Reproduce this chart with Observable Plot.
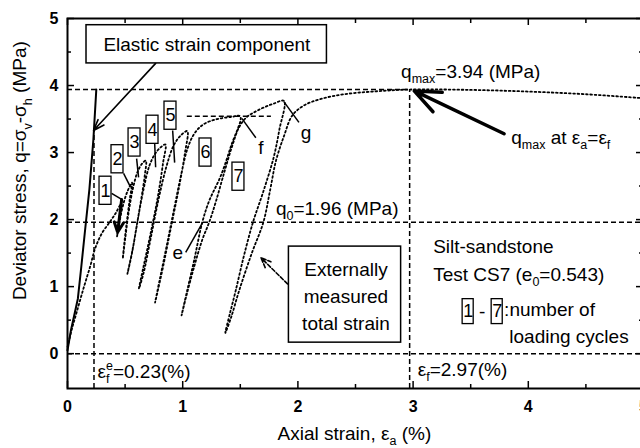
<!DOCTYPE html>
<html><head><meta charset="utf-8">
<script src="https://cdn.jsdelivr.net/npm/d3@7"></script>
<script src="https://cdn.jsdelivr.net/npm/@observablehq/plot@0.6"></script>
<style>html,body{margin:0;padding:0;background:#fff;overflow:hidden;} svg{display:block;overflow:hidden;}</style>
</head><body><div id="chart"></div>
<script>
// ---------- data ----------
const elasticStrain = [0, 0.03, 0.09, 0.12, 0.15, 0.19, 0.225, 0.25];
const elasticStress = [0.05, 0.35, 0.82, 1.3, 1.8, 2.45, 3.2, 3.94];

const initialLoading = [[0,0.1],[0.04,0.38],[0.08,0.62],[0.14,0.98],[0.2,1.32],[0.24,1.57],[0.3,1.8],[0.37,1.97],[0.42,2.1],[0.46,2.22]];
const cycle1 = [[0.45,2.02],[0.44,1.86],[0.43,1.75],[0.45,1.95],[0.48,2.2],[0.52,2.42],[0.56,2.55]];
const cycle2 = [[0.54,2.3],[0.51,1.9],[0.49,1.6],[0.48,1.42],[0.5,1.7],[0.53,2.1],[0.57,2.48],[0.61,2.72],[0.65,2.84],[0.68,2.88]];
const cycle3 = [[0.67,2.65],[0.62,2.1],[0.57,1.6],[0.52,1.19],[0.56,1.5],[0.61,2.0],[0.66,2.45],[0.71,2.8],[0.76,2.98],[0.81,3.08],[0.85,3.12]];
const cycle4 = [[0.83,2.85],[0.78,2.3],[0.71,1.7],[0.66,1.3],[0.62,0.97],[0.66,1.2],[0.72,1.7],[0.79,2.3],[0.86,2.8],[0.92,3.1],[0.98,3.25],[1.04,3.32]];
const cycle5 = [[1.02,3.0],[0.97,2.5],[0.9,1.9],[0.83,1.3],[0.76,0.76],[0.8,1.1],[0.86,1.6],[0.93,2.2],[0.99,2.7],[1.04,3.05],[1.1,3.28],[1.18,3.42],[1.3,3.5],[1.42,3.53],[1.5,3.54]];
const cycle6 = [[1.42,3.1],[1.33,2.65],[1.23,2.28],[1.17,1.96],[1.1,1.4],[1.04,0.95],[0.99,0.57],[1.03,0.85],[1.1,1.3],[1.17,1.7],[1.23,1.96],[1.29,2.28],[1.36,2.7],[1.43,3.1],[1.49,3.38],[1.55,3.52],[1.62,3.6],[1.7,3.67],[1.79,3.73],[1.88,3.77]];
const cycle7 = [[1.84,3.35],[1.79,2.93],[1.7,2.42],[1.61,1.96],[1.53,1.45],[1.46,0.94],[1.41,0.6],[1.37,0.31],[1.42,0.54],[1.49,0.94],[1.6,1.5],[1.7,1.96],[1.76,2.45],[1.81,2.88],[1.88,3.25],[1.95,3.55],[2.05,3.7],[2.2,3.8],[2.4,3.87],[2.65,3.91],[2.97,3.94],[3.5,3.935],[4.0,3.91],[4.5,3.87],[5.0,3.81]];

const qMax = 3.94, epsF = 2.97, q0 = 1.96, epsFe = 0.23;
const epsFeTop = 3.35;             // where the ε_f^e line meets the elastic line
const fLevel = 3.54, fFrom = 1.04, fTo = 1.77;
const xTicks = [0, 1, 2, 3, 4, 5];
const yTicks = [0, 1, 2, 3, 4, 5];
const xMinor = [0.5, 1.5, 2.5, 3.5, 4.5];
const yMinor = [0.5, 1.5, 2.5, 3.5, 4.5];
const cycleLabels = ["1", "2", "3", "4", "5", "6", "7"];

// ---------- build ----------
const elastic = elasticStrain.map((e, i) => ({e, q: elasticStress[i]}));
const total = [initialLoading, cycle1, cycle2, cycle3, cycle4, cycle5, cycle6, cycle7].flat().map(([e, q]) => ({e, q}));

const W = 640, H = 448, mL = 67, mT = 18, mB = 60, mR = -3;
const frameW = W - mL - mR, frameH = H - mT - mB;
const yMin = -0.52;
const FONT = "Liberation Sans, Arial, Helvetica, sans-serif";
const dash = "5,3";

// annotation layout (data units)
const cyclePos = [[0.33,2.43],[0.434,2.90],[0.582,3.15],[0.738,3.34],[0.894,3.55],[1.198,3.0],[1.484,2.64]];
const cycleBoxes = cycleLabels.map((t, i) => ({t, x: cyclePos[i][0], y: cyclePos[i][1]}));
const legendBoxes = [{t: cycleLabels[0], x: 3.478, y: 0.627}, {t: cycleLabels[6], x: 3.73, y: 0.627}];
const pointers = [
  {x1: 0.487, y1: 2.69, x2: 0.548, y2: 2.48},
  {x1: 0.60, y1: 2.91, x2: 0.617, y2: 2.63},
  {x1: 0.757, y1: 3.13, x2: 0.765, y2: 2.78},
  {x1: 0.913, y1: 3.33, x2: 0.93, y2: 2.85},
  {x1: 1.513, y1: 3.51, x2: 1.635, y2: 3.22},
  {x1: 1.878, y1: 3.76, x2: 2.009, y2: 3.45},
  {x1: 1.026, y1: 1.51, x2: 1.174, y2: 1.96},
  {x1: 0.383, y1: 2.39, x2: 0.47, y2: 2.30}
];

const chart = Plot.plot({
  width: W, height: H,
  marginLeft: mL, marginTop: mT, marginBottom: mB, marginRight: mR,
  x: {domain: [0, 5], axis: null},
  y: {domain: [yMin, 5], axis: null},
  style: {fontFamily: FONT, fontSize: "19px", color: "black", background: "white", overflow: "hidden"},
  marks: [
    // reference lines
    Plot.ruleY([q0], {x1: 0, x2: 5, stroke: "black", strokeWidth: 1.5, strokeDasharray: dash}),
    Plot.ruleY([0], {x1: 0, x2: 5, stroke: "black", strokeWidth: 1.5, strokeDasharray: dash}),
    Plot.ruleY([qMax], {x1: 0, x2: epsF, stroke: "black", strokeWidth: 1.5, strokeDasharray: dash}),
    Plot.ruleX([epsF], {y1: yMin, y2: qMax, stroke: "black", strokeWidth: 1.5, strokeDasharray: dash}),
    Plot.ruleX([epsFe], {y1: yMin, y2: epsFeTop, stroke: "black", strokeWidth: 1.5, strokeDasharray: dash}),
    Plot.ruleY([fLevel], {x1: fFrom, x2: fTo, stroke: "black", strokeWidth: 1.5, strokeDasharray: dash}),
    // curves
    Plot.line(elastic, {x: "e", y: "q", stroke: "black", strokeWidth: 2}),
    Plot.line(total, {x: "e", y: "q", stroke: "black", strokeWidth: 1.8, strokeDasharray: "1.7,2.6", curve: "catmull-rom"}),
    // frame & ticks
    Plot.frame({stroke: "black", strokeWidth: 2}),
    Plot.ruleX(xTicks, {x: d => d, stroke: "black", strokeWidth: 1.5, insetTop: frameH - 7}),
    Plot.ruleX(xMinor, {x: d => d, stroke: "black", strokeWidth: 1.5, insetTop: frameH - 4}),
    Plot.ruleX(xTicks, {x: d => d, stroke: "black", strokeWidth: 1.5, insetBottom: frameH - 7}),
    Plot.ruleX(xMinor, {x: d => d, stroke: "black", strokeWidth: 1.5, insetBottom: frameH - 5}),
    Plot.ruleY(yTicks, {y: d => d, stroke: "black", strokeWidth: 1.5, insetRight: frameW - 7}),
    Plot.ruleY(yMinor, {y: d => d, stroke: "black", strokeWidth: 1.5, insetRight: frameW - 4}),
    Plot.ruleY(yTicks, {y: d => d, stroke: "black", strokeWidth: 1.5, insetLeft: frameW - 7}),
    Plot.ruleY(yMinor, {y: d => d, stroke: "black", strokeWidth: 1.5, insetLeft: frameW - 4}),
    // tick labels
    Plot.text(xTicks, {x: d => d, y: yMin, dy: 18, text: d => String(d), fontWeight: "bold", fontSize: 16}),
    Plot.text(yTicks, {x: 0, y: d => d, dx: -9, textAnchor: "end", text: d => String(d), fontWeight: "bold", fontSize: 16}),
    // axis titles
    Plot.text(["Axial strain, ε_{a} (%)"], {x: 2.49, y: -1.2, text: d => d, fontSize: 19}),
    Plot.text(["Deviator stress, q=σ_{v}-σ_{h} (MPa)"], {x: -0.41, y: 2.73, rotate: -90, text: d => d, fontSize: 19}),
    // arrows
    Plot.arrow([{x1: 0.765, y1: 4.33, x2: 0.226, y2: 3.33}], {x1: "x1", y1: "y1", x2: "x2", y2: "y2", stroke: "black", strokeWidth: 1.6, headLength: 11, headAngle: 40}),
    Plot.arrow([{x1: 3.79, y1: 3.28, x2: 3.01, y2: 3.92}], {x1: "x1", y1: "y1", x2: "x2", y2: "y2", stroke: "black", strokeWidth: 3.5, headLength: 12, headAngle: 45}),
    Plot.arrow([{x1: 1.91, y1: 1.04, x2: 1.68, y2: 1.43}], {x1: "x1", y1: "y1", x2: "x2", y2: "y2", stroke: "black", strokeWidth: 1.6, strokeDasharray: "4,2", headLength: 10, headAngle: 45}),
    Plot.arrow([{x1: 0.47, y1: 2.30, x2: 0.435, y2: 1.81}], {x1: "x1", y1: "y1", x2: "x2", y2: "y2", stroke: "black", strokeWidth: 3, headLength: 8, headAngle: 50}),
    Plot.link(pointers, {x1: "x1", y1: "y1", x2: "x2", y2: "y2", stroke: "black", strokeWidth: 1.5}),
    // boxes
    Plot.rect([{x1: 0.165, x2: 2.252, y1: 4.33, y2: 4.90}], {x1: "x1", x2: "x2", y1: "y1", y2: "y2", fill: "white", stroke: "black", strokeWidth: 1.5}),
    Plot.text(["Elastic strain component"], {x: 1.21, y: 4.61, text: d => d, fontSize: 19}),
    Plot.rect([{x1: 1.922, x2: 2.896, y1: 0.164, y2: 1.597}], {x1: "x1", x2: "x2", y1: "y1", y2: "y2", fill: "white", stroke: "black", strokeWidth: 1.5}),
    Plot.text(["Externally\nmeasured\ntotal strain"], {x: 2.417, y: 0.88, text: d => d, fontSize: 19, lineHeight: 1.42}),
    Plot.rect(cycleBoxes, {x1: d => d.x - 0.052, x2: d => d.x + 0.052, y1: d => d.y - 0.21, y2: d => d.y + 0.21, fill: "white", stroke: "black", strokeWidth: 1.3}),
    Plot.text(cycleBoxes, {x: "x", y: "y", text: "t", fontSize: 18}),
    Plot.rect(legendBoxes, {x1: d => d.x - 0.048, x2: d => d.x + 0.048, y1: d => d.y - 0.186, y2: d => d.y + 0.186, fill: "white", stroke: "black", strokeWidth: 1.3}),
    Plot.text(legendBoxes, {x: "x", y: "y", text: "t", fontSize: 18}),
    Plot.text(["-"], {x: 3.6, y: 0.627, text: d => d, fontSize: 19}),
    // labels
    Plot.text([
      {t: "f", x: 1.678, y: 3.07},
      {t: "g", x: 2.07, y: 3.30},
      {t: "e", x: 0.957, y: 1.50}
    ], {x: "x", y: "y", text: "t", fontSize: 19}),
    Plot.text([
      {t: "q_{max}=3.94 (MPa)", x: 2.896, y: 4.21},
      {t: "q_{max} at ε_{a}=ε_{f}", x: 3.852, y: 3.22},
      {t: "q_{0}=1.96 (MPa)", x: 1.809, y: 2.16},
      {t: "Silt-sandstone", x: 3.174, y: 1.597},
      {t: "Test CS7 (e_{0}=0.543)", x: 3.174, y: 1.18},
      {t: ":number of", x: 3.79, y: 0.657},
      {t: "loading cycles", x: 3.835, y: 0.254},
      {t: "ε_{f}^{e}=0.23(%)", x: 0.26, y: -0.27},
      {t: "ε_{f}=2.97(%)", x: 3.04, y: -0.24}
    ], {x: "x", y: "y", text: "t", textAnchor: "start", fontSize: 19})
  ]
});

document.getElementById("chart").appendChild(chart);

// turn _{..} and ^{..} into sub/superscript tspans
(function richify(svg) {
  const ns = "http://www.w3.org/2000/svg";
  svg.querySelectorAll("text").forEach(node => {
    const raw = node.textContent;
    if (!/[_^]\{/.test(raw) || node.querySelector("tspan")) return;
    const fs = parseFloat(getComputedStyle(node).fontSize) || 16;
    const parts = [];
    const re = /([_^])\{([^}]*)\}/g;
    let last = 0, m;
    while ((m = re.exec(raw))) {
      if (m.index > last) parts.push({t: raw.slice(last, m.index), k: "n"});
      parts.push({t: m[2], k: m[1] === "_" ? "sub" : "sup"});
      last = re.lastIndex;
    }
    if (last < raw.length) parts.push({t: raw.slice(last), k: "n"});
    while (node.firstChild) node.removeChild(node.firstChild);
    let cur = 0, prev = null, prevEl = null;
    parts.forEach(p => {
      const ts = document.createElementNS(ns, "tspan");
      const target = p.k === "sub" ? 0.28 * fs : p.k === "sup" ? -0.42 * fs : 0;
      if (target !== cur) ts.setAttribute("dy", (target - cur).toFixed(2));
      cur = target;
      if (p.k !== "n") ts.setAttribute("font-size", (0.66 * fs).toFixed(1));
      if (p.k === "sup" && prev && prev.k === "sub" && prevEl) {
        ts.setAttribute("dx", (-prevEl.getComputedTextLength()).toFixed(2));
      }
      ts.textContent = p.t;
      node.appendChild(ts);
      prev = p; prevEl = ts;
    });
  });
})(chart);
</script>
</body></html>
